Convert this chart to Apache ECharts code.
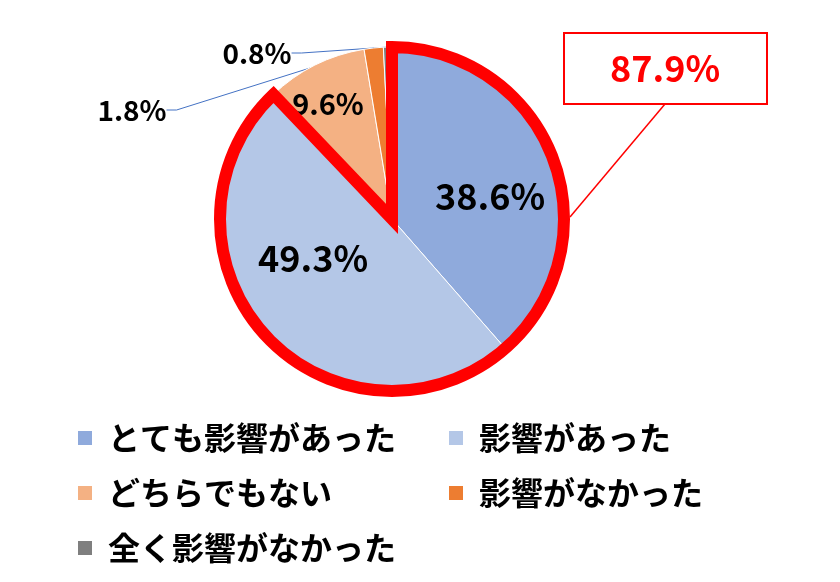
<!DOCTYPE html>
<html>
<head>
<meta charset="utf-8">
<script src="https://cdn.jsdelivr.net/npm/echarts@6/dist/echarts.min.js"></script>
<style>
  html, body { margin: 0; padding: 0; background: #fff; }
  #chart { width: 840px; height: 582px; }
</style>
</head>
<body>
<div id="chart"></div>
<script>
const categories = ['とても影響があった', '影響があった', 'どちらでもない', '影響がなかった', '全く影響がなかった'];
const shares = [38.6, 49.3, 9.6, 1.8, 0.8];
const sliceColors = ['#8faadc', '#b4c7e7', '#f4b183', '#ed7d31', '#7f7f7f'];
const leftLegend = [categories[0], categories[2], categories[4]];
const rightLegend = [categories[1], categories[3]];
const highlightCount = 2; // the first two answers get the red outline

const font = '"Noto Sans CJK JP", "Noto Sans", sans-serif';
const chart = echarts.init(document.getElementById('chart'), null, { renderer: 'canvas' });

const center = [392, 219];
const radius = 172;
const outlineWidth = 12;
const highlightTotal = shares.slice(0, highlightCount).reduce((a, b) => a + b, 0);

// label placement per slice (inside ones first, the two thin slices get leader lines)
const labelSpots = [
  { x: 490, y: 196, size: 36 },
  { x: 313, y: 258, size: 36 },
  { x: 328, y: 104, size: 29 },
  { x: 132, y: 110, size: 28 },
  { x: 257, y: 53, size: 28 },
];

function legendStyle(left, top, data) {
  return {
    orient: 'vertical',
    left,
    top,
    data,
    padding: 0,
    icon: 'rect',
    itemWidth: 16,
    itemHeight: 16,
    itemGap: 23,
    selectedMode: false,
    textStyle: {
      color: '#000',
      fontSize: 32,
      fontWeight: 'bold',
      fontFamily: font,
      lineHeight: 32,
      padding: [0, 0, 0, 10],
    },
  };
}

const sliceData = categories.map((name, i) => {
  const inside = i < 3;
  return {
    name,
    value: shares[i],
    itemStyle: { color: sliceColors[i] },
    label: { position: inside ? 'inside' : 'outside', fontSize: labelSpots[i].size },
    labelLine: { show: !inside },
  };
});

// callout sits to the right of the pie, joined to the outline's right edge
const edgeX = center[0] + radius + outlineWidth / 2;

chart.setOption({
  backgroundColor: '#fff',
  animation: false,
  legend: [
    legendStyle(76, 422, leftLegend),
    legendStyle(447, 422, rightLegend),
  ],
  series: [
    {
      type: 'pie',
      center,
      radius,
      startAngle: 90,
      clockwise: true,
      avoidLabelOverlap: false,
      silent: true,
      itemStyle: { borderColor: '#fff', borderWidth: 1 },
      label: {
        show: true,
        color: '#000',
        fontWeight: 'bold',
        fontFamily: font,
        formatter: (p) => p.value.toFixed(1) + '%',
      },
      labelLine: {
        length: 10,
        length2: 10,
        lineStyle: { color: '#4472c4', width: 1 },
      },
      labelLayout: (p) => ({
        x: labelSpots[p.dataIndex].x,
        y: labelSpots[p.dataIndex].y,
        align: 'center',
        verticalAlign: 'middle',
      }),
      data: sliceData,
    },
    {
      type: 'pie',
      center,
      radius,
      startAngle: 90,
      clockwise: true,
      silent: true,
      z: 5,
      label: { show: false },
      labelLine: { show: false },
      data: [
        {
          name: 'outline',
          value: highlightTotal,
          itemStyle: { color: 'rgba(0,0,0,0)', borderColor: '#ff0000', borderWidth: outlineWidth, borderJoin: 'miter' },
        },
        {
          name: 'rest',
          value: 100 - highlightTotal,
          itemStyle: { color: 'rgba(0,0,0,0)', borderWidth: 0 },
        },
      ],
    },
  ],
  graphic: [
    {
      type: 'line',
      z: 10,
      shape: { x1: 665, y1: 104, x2: edgeX, y2: center[1] - 2 },
      style: { stroke: '#ff0000', lineWidth: 1.5 },
    },
    {
      type: 'rect',
      z: 10,
      shape: { x: 564, y: 33, width: 203, height: 71 },
      style: { fill: '#fff', stroke: '#ff0000', lineWidth: 2 },
    },
    {
      type: 'text',
      z: 11,
      x: 665,
      y: 68,
      style: {
        text: highlightTotal.toFixed(1) + '%',
        fill: '#ff0000',
        font: 'bold 36px ' + font,
        align: 'center',
        verticalAlign: 'middle',
      },
    },
  ],
});
</script>
</body>
</html>
